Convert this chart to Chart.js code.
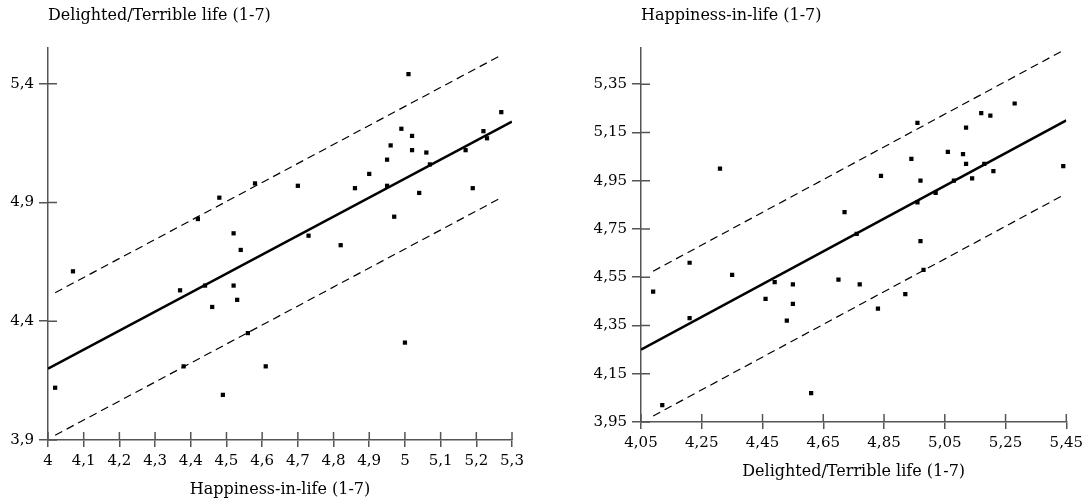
<!DOCTYPE html>
<html>
<head>
    <title>Happiness vs Delighted/Terrible</title>
    <meta charset="utf-8" />
    <script src="https://cdn.jsdelivr.net/npm/chart.js@4.4.1/dist/chart.umd.min.js"></script>
    <style>
        html, body { margin: 0; padding: 0; background: #fff; }
        .panel { position: absolute; top: 0; width: 544px; height: 504px; }
        #left { left: 0; }
        #right { left: 544px; }
    </style>
</head>
<body>
    <div class="panel" id="left"><canvas id="c1" width="544" height="504"></canvas></div>
    <div class="panel" id="right"><canvas id="c2" width="544" height="504"></canvas></div>

    <script>
        // left panel: x = Happiness-in-life, y = Delighted/Terrible life
        const leftX = [4.02, 4.07, 4.37, 4.38, 4.42, 4.44, 4.46, 4.48, 4.49, 4.52,
                       4.52, 4.53, 4.54, 4.56, 4.58, 4.61, 4.70, 4.73, 4.82, 4.86,
                       4.90, 4.95, 4.95, 4.96, 4.97, 4.99, 5.00, 5.01, 5.02, 5.02,
                       5.04, 5.06, 5.07, 5.17, 5.19, 5.22, 5.23, 5.27];
        const leftY = [4.12, 4.61, 4.53, 4.21, 4.83, 4.55, 4.46, 4.92, 4.09, 4.77,
                       4.55, 4.49, 4.70, 4.35, 4.98, 4.21, 4.97, 4.76, 4.72, 4.96,
                       5.02, 5.08, 4.97, 5.14, 4.84, 5.21, 4.31, 5.44, 5.18, 5.12,
                       4.94, 5.11, 5.06, 5.12, 4.96, 5.20, 5.17, 5.28];
        const leftFitX = [4.00, 5.30];
        const leftFitY = [4.20, 5.24];
        const leftBandX = [4.02, 5.27];
        const leftUpperY = [4.52, 5.52];
        const leftLowerY = [3.92, 4.92];
        const leftXTicks = [4, 4.1, 4.2, 4.3, 4.4, 4.5, 4.6, 4.7, 4.8, 4.9, 5, 5.1, 5.2, 5.3];
        const leftXLabels = ['4', '4,1', '4,2', '4,3', '4,4', '4,5', '4,6', '4,7', '4,8', '4,9', '5', '5,1', '5,2', '5,3'];
        const leftYTicks = [3.9, 4.4, 4.9, 5.4];
        const leftYLabels = ['3,9', '4,4', '4,9', '5,4'];

        // right panel: x = Delighted/Terrible life, y = Happiness-in-life
        const rightX = [4.09, 4.12, 4.21, 4.21, 4.31, 4.35, 4.46, 4.49, 4.53, 4.55,
                        4.55, 4.61, 4.70, 4.72, 4.76, 4.77, 4.83, 4.84, 4.92, 4.94,
                        4.96, 4.96, 4.97, 4.97, 4.98, 5.02, 5.06, 5.08, 5.11, 5.12,
                        5.12, 5.14, 5.17, 5.18, 5.20, 5.21, 5.28, 5.44];
        const rightY = [4.49, 4.02, 4.61, 4.38, 5.00, 4.56, 4.46, 4.53, 4.37, 4.52,
                        4.44, 4.07, 4.54, 4.82, 4.73, 4.52, 4.42, 4.97, 4.48, 5.04,
                        5.19, 4.86, 4.95, 4.70, 4.58, 4.90, 5.07, 4.95, 5.06, 5.17,
                        5.02, 4.96, 5.23, 5.02, 5.22, 4.99, 5.27, 5.01];
        const rightFitX = [4.05, 5.45];
        const rightFitY = [4.25, 5.20];
        const rightBandX = [4.09, 5.44];
        const rightUpperY = [4.575, 5.49];
        const rightLowerY = [3.975, 4.89];
        const rightXTicks = [4.05, 4.25, 4.45, 4.65, 4.85, 5.05, 5.25, 5.45];
        const rightXLabels = ['4,05', '4,25', '4,45', '4,65', '4,85', '5,05', '5,25', '5,45'];
        const rightYTicks = [3.95, 4.15, 4.35, 4.55, 4.75, 4.95, 5.15, 5.35];
        const rightYLabels = ['3,95', '4,15', '4,35', '4,55', '4,75', '4,95', '5,15', '5,35'];

        const FONT = 'DejaVu Serif';
        const AXIS = '#555';

        const pts = (xs, ys) => xs.map((x, i) => ({ x: x, y: ys[i] }));

        // draw the inner half of each tick so ticks cross the axis
        const crossTicks = {
            id: 'crossTicks',
            afterDraw(chart) {
                const ctx = chart.ctx;
                const area = chart.chartArea;
                ctx.save();
                ctx.strokeStyle = AXIS;
                ctx.lineWidth = 1.5;
                ctx.beginPath();
                chart.scales.x.ticks.forEach((t, i) => {
                    const px = chart.scales.x.getPixelForTick(i);
                    ctx.moveTo(px, area.bottom);
                    ctx.lineTo(px, area.bottom - 8);
                });
                chart.scales.y.ticks.forEach((t, i) => {
                    const py = chart.scales.y.getPixelForTick(i);
                    ctx.moveTo(area.left, py);
                    ctx.lineTo(area.left + 9, py);
                });
                ctx.stroke();
                ctx.restore();
            }
        };

        function makeChart(id, cfg) {
            return new Chart(document.getElementById(id), {
                type: 'scatter',
                data: {
                    datasets: [
                        {
                            data: pts(cfg.x, cfg.y),
                            pointStyle: 'rect',
                            radius: 3,
                            backgroundColor: '#000',
                            borderWidth: 0
                        },
                        {
                            data: pts(cfg.fitX, cfg.fitY),
                            showLine: true,
                            borderColor: '#000',
                            borderWidth: 2.6,
                            pointRadius: 0
                        },
                        {
                            data: pts(cfg.bandX, cfg.upperY),
                            showLine: true,
                            borderColor: '#000',
                            borderWidth: 1.2,
                            borderDash: [8, 5],
                            pointRadius: 0
                        },
                        {
                            data: pts(cfg.bandX, cfg.lowerY),
                            showLine: true,
                            borderColor: '#000',
                            borderWidth: 1.2,
                            borderDash: [8, 5],
                            pointRadius: 0
                        }
                    ]
                },
                options: {
                    responsive: false,
                    animation: false,
                    layout: { padding: cfg.padding },
                    plugins: {
                        legend: { display: false },
                        tooltip: { enabled: false },
                        title: {
                            display: true,
                            text: cfg.yTitle,
                            align: 'start',
                            fullSize: false,
                            color: '#000',
                            font: { family: FONT, size: 16, weight: 'normal' },
                            padding: { top: 6, bottom: 22.8 }
                        }
                    },
                    scales: {
                        x: {
                            type: 'linear',
                            min: cfg.xMin,
                            max: cfg.xMax,
                            afterBuildTicks: s => { s.ticks = cfg.xTicks.map(v => ({ value: v })); },
                            afterFit: s => { s.height = 64; },
                            ticks: {
                                callback: (v, i) => cfg.xLabels[i],
                                color: '#000',
                                padding: 5,
                                maxRotation: 0,
                                autoSkip: false,
                                font: { family: FONT, size: 15 }
                            },
                            grid: { drawOnChartArea: false, tickLength: 7, color: AXIS, lineWidth: 1.5 },
                            border: { color: AXIS, width: 1.5 },
                            title: {
                                display: true,
                                text: cfg.xTitle,
                                color: '#000',
                                font: { family: FONT, size: 16 },
                                padding: { top: 0, bottom: 5 }
                            }
                        },
                        y: {
                            type: 'linear',
                            min: cfg.yMin,
                            max: cfg.yMax,
                            afterBuildTicks: s => { s.ticks = cfg.yTicks.map(v => ({ value: v })); },
                            afterFit: s => { s.width = cfg.yWidth; },
                            ticks: {
                                callback: (v, i) => cfg.yLabels[i],
                                color: '#000',
                                padding: 5,
                                autoSkip: false,
                                font: { family: FONT, size: 15 }
                            },
                            grid: { drawOnChartArea: false, tickLength: 9, color: AXIS, lineWidth: 1.5 },
                            border: { color: AXIS, width: 1.5 }
                        }
                    }
                },
                plugins: [crossTicks]
            });
        }

        makeChart('c1', {
            x: leftX, y: leftY,
            fitX: leftFitX, fitY: leftFitY,
            bandX: leftBandX, upperY: leftUpperY, lowerY: leftLowerY,
            xTicks: leftXTicks, xLabels: leftXLabels,
            yTicks: leftYTicks, yLabels: leftYLabels,
            xMin: 4, xMax: 5.3, yMin: 3.9, yMax: 5.55,
            yWidth: 48,
            padding: { left: 0, right: 32, top: 0, bottom: 0 },
            xTitle: 'Happiness-in-life (1-7)',
            yTitle: 'Delighted/Terrible life (1-7)'
        });

        makeChart('c2', {
            x: rightX, y: rightY,
            fitX: rightFitX, fitY: rightFitY,
            bandX: rightBandX, upperY: rightUpperY, lowerY: rightLowerY,
            xTicks: rightXTicks, xLabels: rightXLabels,
            yTicks: rightYTicks, yLabels: rightYLabels,
            xMin: 4.05, xMax: 5.45, yMin: 3.95, yMax: 5.5,
            yWidth: 97,
            padding: { left: 0, right: 16, top: 0, bottom: 18 },
            xTitle: 'Delighted/Terrible life (1-7)',
            yTitle: 'Happiness-in-life (1-7)'
        });
    </script>
</body>
</html>
